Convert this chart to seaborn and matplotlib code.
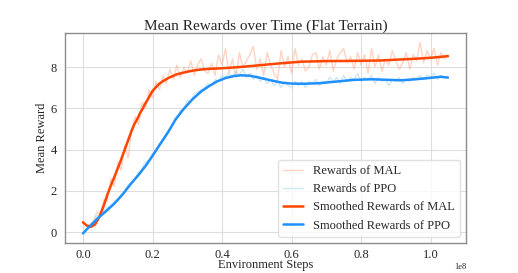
import numpy as np
import pandas as pd
import matplotlib
matplotlib.use("Agg")
import matplotlib.pyplot as plt
import seaborn as sns

# raw rewards, one reading every 1e6 steps (0 .. 1.05e8)
steps_raw = np.arange(0, 106) * 1e6

mal_raw = [
    0.5, 0.3, 0.2, 0.5, 1.0, 0.8, 1.6, 1.5, 2.6, 2.2,
    3.4, 3.0, 4.2, 3.6, 5.0, 5.6, 5.2, 6.3, 6.0, 6.9,
    6.5, 7.3, 6.9, 7.6, 7.2, 7.9, 7.4, 8.1, 7.5, 8.0,
    7.7, 8.3, 7.6, 8.1, 8.4, 7.8, 7.7, 8.2, 7.6, 8.6,
    8.1, 8.9, 7.7, 8.4, 7.5, 8.7, 8.0, 8.3, 8.6, 9.0,
    7.9, 8.4, 7.6, 8.7, 8.1, 7.7, 7.4, 8.8, 8.0, 8.5,
    7.7, 8.9, 8.1, 8.4, 7.8, 8.0, 8.6, 8.7, 7.9, 8.5,
    8.1, 8.8, 7.8, 8.4, 8.7, 8.9, 8.2, 8.5, 7.9, 8.7,
    8.1, 8.6, 7.7, 8.9, 8.0, 8.6, 7.8, 8.4, 8.1, 8.8,
    8.3, 7.9, 8.2, 8.7, 7.9, 8.6, 8.3, 9.2, 8.2, 8.8,
    8.4, 8.9, 8.1, 8.7, 8.4, 8.6,
]

ppo_raw = [
    -0.05, 0.15, 0.35, 0.5, 0.8, 0.75, 1.05, 1.2, 1.3, 1.5,
    1.6, 1.8, 2.0, 2.3, 2.4, 2.6, 2.9, 3.1, 3.4, 3.5,
    3.8, 4.0, 4.3, 4.5, 4.8, 5.0, 5.3, 5.5, 5.9, 5.9,
    6.4, 6.3, 6.7, 6.8, 6.9, 7.0, 7.2, 7.1, 7.4, 7.3,
    7.6, 7.5, 7.7, 7.5, 7.8, 7.6, 7.9, 7.5, 7.7, 7.4,
    7.6, 7.3, 7.5, 7.2, 7.4, 7.1, 7.3, 7.0, 7.3, 7.1,
    7.0, 7.3, 7.1, 7.3, 7.0, 7.3, 7.2, 7.4, 7.1, 7.3,
    7.2, 7.5, 7.3, 7.5, 7.2, 7.6, 7.3, 7.5, 7.4, 7.7,
    7.3, 7.5, 7.4, 7.6, 7.2, 7.5, 7.3, 7.4, 7.1, 7.4,
    7.3, 7.5, 7.2, 7.4, 7.3, 7.5, 7.4, 7.6, 7.4, 7.6,
    7.5, 7.7, 7.4, 7.6, 7.5, 7.5,
]

# smoothed curves (in units of 1e8 steps)
mal_smooth_x = [0.000, 0.010, 0.023, 0.035, 0.047, 0.060, 0.071, 0.080, 0.090, 0.105,
                0.119, 0.126, 0.133, 0.140, 0.148, 0.155, 0.160, 0.165, 0.171, 0.178,
                0.186, 0.193, 0.200, 0.210, 0.220, 0.233, 0.248, 0.270, 0.296, 0.320,
                0.344, 0.370, 0.397, 0.450, 0.502, 0.560, 0.626, 0.700, 0.780, 0.856,
                0.952, 1.000, 1.050]
mal_smooth_y = [0.48, 0.33, 0.26, 0.38, 0.74, 1.30, 1.86, 2.25, 2.67, 3.30,
                3.95, 4.28, 4.60, 4.92, 5.24, 5.45, 5.62, 5.80, 5.96, 6.20,
                6.42, 6.64, 6.84, 7.03, 7.20, 7.35, 7.49, 7.65, 7.76, 7.84,
                7.89, 7.92, 7.94, 8.00, 8.08, 8.17, 8.26, 8.29, 8.30, 8.32,
                8.40, 8.45, 8.53]

ppo_smooth_x = [0.000, 0.020, 0.042, 0.065, 0.090, 0.115, 0.138, 0.160, 0.181, 0.200,
                0.219, 0.245, 0.267, 0.290, 0.315, 0.340, 0.363, 0.385, 0.410, 0.435,
                0.455, 0.480, 0.507, 0.540, 0.574, 0.600, 0.635, 0.680, 0.730, 0.780,
                0.830, 0.880, 0.914, 0.950, 0.990, 1.029, 1.050]
ppo_smooth_y = [-0.06, 0.30, 0.66, 1.00, 1.38, 1.85, 2.35, 2.78, 3.23, 3.70,
                4.19, 4.85, 5.48, 5.98, 6.44, 6.82, 7.08, 7.30, 7.47, 7.57,
                7.60, 7.58, 7.49, 7.36, 7.24, 7.20, 7.19, 7.22, 7.30, 7.38,
                7.41, 7.38, 7.36, 7.40, 7.46, 7.53, 7.49]

sns.set_style("whitegrid", {
    "axes.edgecolor": "0.55",
    "grid.color": "0.87",
})
plt.rcParams["font.family"] = ["Liberation Serif", "DejaVu Serif"]

fig, ax = plt.subplots(figsize=(5.18, 2.73), dpi=100)

sns.lineplot(x=steps_raw, y=mal_raw, ax=ax, color="#FFA07A", alpha=0.45,
             linewidth=1, label="Rewards of MAL")
sns.lineplot(x=steps_raw, y=ppo_raw, ax=ax, color="#ADD8E6", alpha=0.6,
             linewidth=1, label="Rewards of PPO")
sns.lineplot(x=np.array(mal_smooth_x) * 1e8, y=mal_smooth_y, ax=ax, color="#FF4500",
             linewidth=1.8, label="Smoothed Rewards of MAL")
sns.lineplot(x=np.array(ppo_smooth_x) * 1e8, y=ppo_smooth_y, ax=ax, color="#1E90FF",
             linewidth=1.8, label="Smoothed Rewards of PPO")

ax.set_title("Mean Rewards over Time (Flat Terrain)", fontsize=11, pad=2)
ax.set_xlabel("Environment Steps", fontsize=9, labelpad=-1)
ax.set_ylabel("Mean Reward", fontsize=9, labelpad=2)
ax.tick_params(axis="x", labelsize=9, pad=0.5)
ax.tick_params(axis="y", labelsize=9, pad=2)
ax.set_yticks([0, 2, 4, 6, 8])
for s in ax.spines.values():
    s.set_linewidth(1.0)

# scale note for the x axis, placed like the reference
ax.xaxis.get_offset_text().set_visible(False)
ax.text(1.0, -0.095, "1e8", transform=ax.transAxes, ha="right", va="top", fontsize=6)

ax.legend(loc="lower right", fontsize=9, frameon=True, edgecolor="0.85",
          handlelength=1.6)

fig.subplots_adjust(left=0.125, right=0.9, top=0.88, bottom=0.11)
fig.savefig("out.png", dpi=100)
